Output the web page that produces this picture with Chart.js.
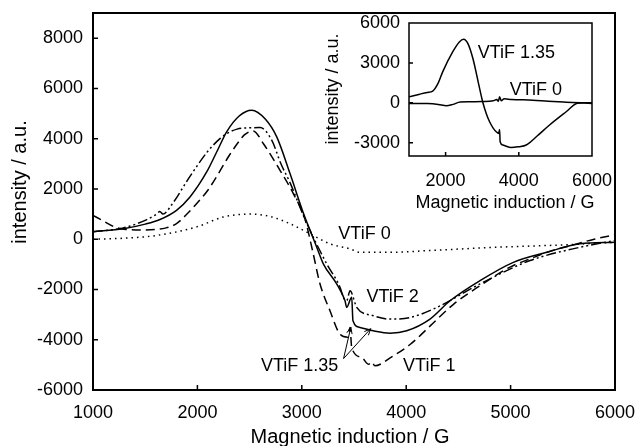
<!DOCTYPE html>
<html>
<head>
<meta charset="utf-8">
<script src="https://cdn.jsdelivr.net/npm/chart.js@4.4.1/dist/chart.umd.min.js"></script>
<style>
  body { margin: 0; background: #fff; }
  #wrap { position: relative; width: 637px; height: 446px; }
  #main { position: absolute; left: 0; top: 0; }
  #inset { position: absolute; left: 320px; top: 14px; }
</style>
</head>
<body>
<div id="wrap">
  <canvas id="main" width="637" height="446"></canvas>
  <canvas id="inset" width="294" height="205"></canvas>
</div>
<script>
// main chart: field (G) and intensity (a.u.) per sample
var fieldV0 = [1000, 1300, 1610, 2000, 2245, 2500, 2700, 2887, 3079, 3270, 3462, 3557, 3845, 4228, 4867, 5505, 6000];
var intV0   = [0, 40, 150, 500, 880, 1000, 900, 615, 215, -185, -385, -520, -520, -450, -320, -225, -120];

var fieldV1 = [1000, 1100, 1200, 1300, 1500, 1700, 1800, 1900, 2000, 2100, 2200, 2300, 2400, 2450, 2535, 2631, 2791, 2919, 3030, 3100, 3174, 3270, 3366, 3440, 3462, 3478, 3575, 3640, 3670, 3700, 3850, 4040, 4230, 4450, 4707, 5000, 5186, 5400, 5600, 5800, 6000];
var intV1   = [950, 720, 500, 400, 370, 450, 620, 1000, 1450, 1950, 2600, 3300, 3900, 4150, 4310, 3808, 2742, 1812, 800, -400, -1770, -2850, -3780, -3900, -3510, -4310, -4710, -4980, -4880, -5040, -4710, -4180, -3450, -2600, -1850, -1100, -780, -450, -225, 0, 175];

var fieldV135 = [1000, 1290, 1500, 1642, 1800, 1929, 2089, 2200, 2280, 2400, 2520, 2650, 2760, 2887, 3014, 3143, 3206, 3334, 3414, 3430, 3478, 3490, 3557, 3685, 3845, 4005, 4228, 4420, 4707, 5026, 5346, 5665, 6000];
var intV135   = [300, 415, 600, 786, 1150, 1680, 2675, 3600, 4270, 4900, 5130, 4780, 4070, 2610, 1050, -320, -980, -1780, -2450, -2710, -2310, -3245, -3510, -3645, -3740, -3645, -3180, -2450, -1650, -920, -520, -185, -120];

var fieldV2 = [1000, 1290, 1500, 1610, 1640, 1670, 1750, 1929, 2100, 2216, 2280, 2380, 2480, 2600, 2712, 2800, 2887, 3030, 3238, 3366, 3398, 3430, 3462, 3526, 3685, 3845, 4036, 4260, 4707, 5186, 5665, 6000];
var intV2   = [300, 450, 750, 1000, 1100, 1000, 1350, 2500, 3500, 4000, 4200, 4380, 4430, 4440, 3940, 3000, 2250, 800, -980, -1915, -2315, -2450, -2050, -2710, -3045, -3180, -3115, -2780, -1780, -850, -320, -50];

var xTicks = [1000, 2000, 3000, 4000, 5000, 6000];
var yTicks = [-6000, -4000, -2000, 0, 2000, 4000, 6000, 8000];

// inset: VTiF 1.35 and VTiF 0 on their own scale
var fieldIn135 = [1000, 1292, 1500, 1647, 1800, 1920, 2193, 2375, 2492, 2610, 2746, 2929, 3020, 3110, 3202, 3300, 3384, 3450, 3475, 3490, 3566, 3794, 4000, 4203, 4500, 4840, 5294, 5600, 5800, 6000];
var intIn135   = [450, 650, 780, 880, 1500, 2325, 3825, 4575, 4780, 4450, 3330, 1080, 0, -800, -1425, -1900, -2175, -2300, -2000, -2925, -3175, -3370, -3300, -3175, -2500, -1670, -675, -30, 0, 0];
var fieldIn0 = [1000, 1500, 1800, 2020, 2200, 2400, 2656, 3000, 3300, 3400, 3440, 3475, 3520, 3600, 3800, 4384, 4800, 5294, 5700, 6000];
var intIn0   = [-50, -60, -120, -225, -120, 60, 75, 100, 150, 250, 100, 450, 150, 300, 250, 200, 120, 50, 0, -50];

var insetXTicks = [2000, 4000, 6000];
var insetYTicks = [-3000, 0, 3000, 6000];

var FONT = "'Liberation Sans', Arial, sans-serif";

function pts(xs, ys) {
  return xs.map(function(x, i) { return { x: x, y: ys[i] }; });
}

function line(data, dash, width) {
  return {
    data: data,
    showLine: true,
    borderColor: '#000',
    borderWidth: width || 1.5,
    borderDash: dash,
    pointRadius: 0,
    cubicInterpolationMode: 'monotone',
    fill: false
  };
}

function axis(min, max, ticks, size, pad) {
  return {
    type: 'linear',
    min: min,
    max: max,
    afterBuildTicks: function(s) { s.ticks = ticks.map(function(v) { return { value: v }; }); },
    grid: { display: false, drawTicks: false },
    border: { display: false },
    ticks: {
      color: '#000', font: { family: FONT, size: 18 }, padding: pad, maxRotation: 0, autoSkip: false,
      callback: function(v) { return String(v); }
    },
    afterFit: function(s) {
      if (s.isHorizontal()) s.height = size; else s.width = size;
      s.paddingTop = 0; s.paddingBottom = 0; s.paddingLeft = 0; s.paddingRight = 0;
    }
  };
}

function frame(ctx, a, lw) {
  ctx.save();
  ctx.strokeStyle = '#000';
  ctx.lineWidth = lw;
  ctx.strokeRect(a.left, a.top, a.right - a.left, a.bottom - a.top);
  ctx.restore();
}

function tickMarks(chart, xs, ys, tl) {
  var ctx = chart.ctx, a = chart.chartArea;
  ctx.save();
  ctx.strokeStyle = '#000';
  ctx.lineWidth = 1.5;
  ctx.beginPath();
  xs.forEach(function(v) {
    var p = chart.scales.x.getPixelForValue(v);
    ctx.moveTo(p, a.bottom); ctx.lineTo(p, a.bottom - tl);
  });
  ys.forEach(function(v) {
    var p = chart.scales.y.getPixelForValue(v);
    ctx.moveTo(a.left, p); ctx.lineTo(a.left + tl, p);
  });
  ctx.stroke();
  ctx.restore();
}

function label(chart, text, x, y, align) {
  var ctx = chart.ctx;
  ctx.save();
  ctx.fillStyle = '#000';
  ctx.font = '18px ' + FONT;
  ctx.textAlign = align || 'left';
  ctx.textBaseline = 'middle';
  ctx.fillText(text, chart.scales.x.getPixelForValue(x), chart.scales.y.getPixelForValue(y));
  ctx.restore();
}

function titles(ctx, size, xt, xx, xy, yt, yx, yy) {
  ctx.save();
  ctx.fillStyle = '#000';
  ctx.font = size + 'px ' + FONT;
  ctx.textAlign = 'center';
  ctx.textBaseline = 'middle';
  ctx.fillText(xt, xx, xy);
  ctx.translate(yx, yy);
  ctx.rotate(-Math.PI / 2);
  ctx.fillText(yt, 0, 0);
  ctx.restore();
}

function arrow(chart, x0, y0, x1, y1) {
  var ctx = chart.ctx, sx = chart.scales.x, sy = chart.scales.y;
  var ax = sx.getPixelForValue(x0), ay = sy.getPixelForValue(y0);
  var bx = sx.getPixelForValue(x1), by = sy.getPixelForValue(y1);
  var ang = Math.atan2(by - ay, bx - ax), h = 7;
  ctx.save();
  ctx.strokeStyle = '#000';
  ctx.lineWidth = 1;
  ctx.beginPath();
  ctx.moveTo(ax, ay); ctx.lineTo(bx, by);
  ctx.moveTo(bx - h * Math.cos(ang - 0.4), by - h * Math.sin(ang - 0.4));
  ctx.lineTo(bx, by);
  ctx.lineTo(bx - h * Math.cos(ang + 0.4), by - h * Math.sin(ang + 0.4));
  ctx.stroke();
  ctx.restore();
}

var mainDecor = {
  id: 'mainDecor',
  afterDraw: function(chart) {
    var ctx = chart.ctx;
    frame(ctx, chart.chartArea, 2);
    tickMarks(chart, xTicks, yTicks, 5);
    titles(ctx, 20, 'Magnetic induction / G', 350, 437, 'intensity / a.u.', 20, 182);
    label(chart, 'VTiF 0', 3350, 200);
    label(chart, 'VTiF 2', 3620, -2300);
    label(chart, 'VTiF 1.35', 3350, -5050, 'right');
    label(chart, 'VTiF 1', 3970, -5050);
    arrow(chart, 3400, -4750, 3660, -3560);
    arrow(chart, 3400, -4750, 3470, -3500);
  }
};

new Chart(document.getElementById('main'), {
  type: 'scatter',
  data: {
    datasets: [
      line(pts(fieldV0, intV0), [1.5, 4]),
      line(pts(fieldV1, intV1), [9, 5]),
      line(pts(fieldV135, intV135), []),
      line(pts(fieldV2, intV2), [10, 3, 2, 3, 2, 3])
    ]
  },
  options: {
    responsive: false,
    animation: false,
    layout: { padding: { left: 0, top: 13, right: 22, bottom: 0 } },
    plugins: { legend: { display: false }, tooltip: { enabled: false } },
    scales: {
      x: axis(1000, 6000, xTicks, 56, 12),
      y: axis(-6000, 9000, yTicks, 93, 10)
    }
  },
  plugins: [mainDecor]
});

var insetDecor = {
  id: 'insetDecor',
  afterDraw: function(chart) {
    var ctx = chart.ctx;
    frame(ctx, chart.chartArea, 1.5);
    tickMarks(chart, [2000, 4000], [-3000, 0, 3000], 4);
    titles(ctx, 18, 'Magnetic induction / G', 185, 189, 'intensity / a.u.', 13, 75);
    label(chart, 'VTiF 1.35', 2875, 3730);
    label(chart, 'VTiF 0', 3750, 950);
  }
};

new Chart(document.getElementById('inset'), {
  type: 'scatter',
  data: {
    datasets: [
      line(pts(fieldIn135, intIn135), []),
      line(pts(fieldIn0, intIn0), [])
    ]
  },
  options: {
    responsive: false,
    animation: false,
    layout: { padding: { left: 0, top: 9, right: 22, bottom: 0 } },
    plugins: { legend: { display: false }, tooltip: { enabled: false } },
    scales: {
      x: axis(1000, 6000, insetXTicks, 63, 14),
      y: axis(-4000, 6000, insetYTicks, 89, 9)
    }
  },
  plugins: [insetDecor]
});
</script>
</body>
</html>
